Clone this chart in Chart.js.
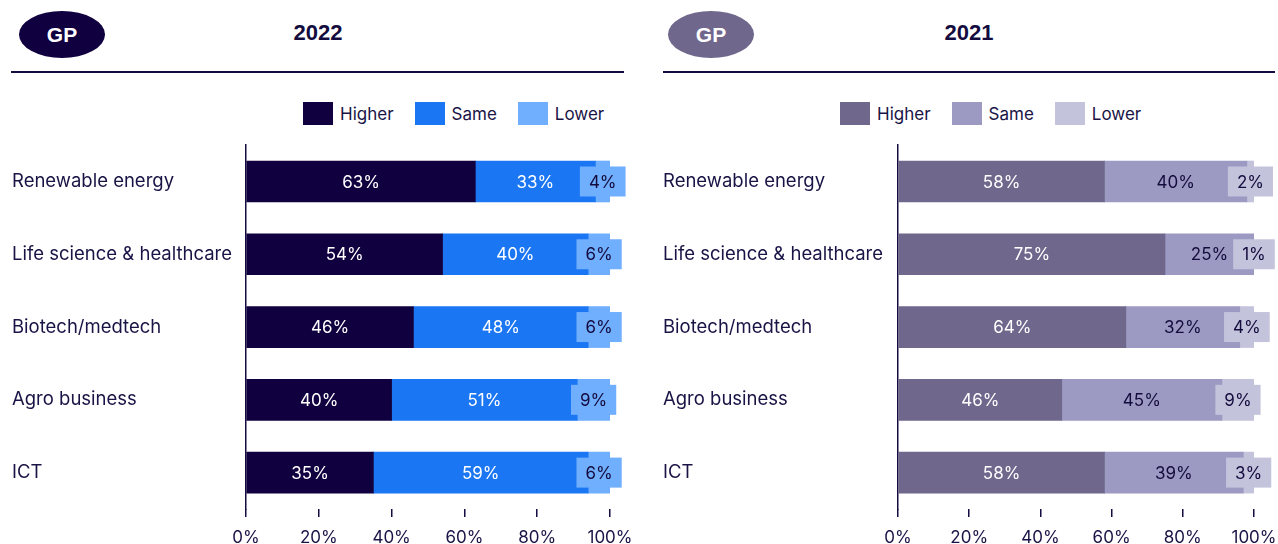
<!DOCTYPE html>
<html>
<head>
<meta charset="utf-8">
<script src="https://cdn.jsdelivr.net/npm/chart.js@4"></script>
<style>
  body { margin: 0; width: 1278px; height: 544px; background: #fff; position: relative; overflow: hidden; font-family: Inter, "Noto Sans", sans-serif; color: #1a1446; }
  .pill { position: absolute; top: 11px; width: 86px; height: 47px; border-radius: 50%; color: #fff; font: bold 21px "Liberation Sans", Arial, sans-serif; display: flex; align-items: center; justify-content: center; }
  .title { position: absolute; top: 20px; font: bold 22px "Liberation Sans", Arial, sans-serif; color: #140c3e; transform: translateX(-50%); }
  .rule { position: absolute; top: 71px; height: 1.5px; background: #140c3e; }
  .legend { position: absolute; top: 102px; display: flex; align-items: center; font-size: 17px; }
  .legend span.box { display: inline-block; width: 30px; height: 23px; margin-right: 7px; }
  .legend span.lbl { margin-right: 21px; }
  .wrap { position: absolute; top: 134px; height: 410px; }
</style>
</head>
<body>
<div class="pill" style="left:19px;background:#10003f;">GP</div>
<div class="title" style="left:318px;">2022</div>
<div class="rule" style="left:11px;width:613px;"></div>
<div class="legend" id="legend2022" style="left:303px;"></div>

<div class="pill" style="left:668px;background:#6f678c;">GP</div>
<div class="title" style="left:969px;">2021</div>
<div class="rule" style="left:663px;width:612px;"></div>
<div class="legend" id="legend2021" style="left:840px;"></div>

<div class="wrap" style="left:12px;width:622px;"><canvas id="chart2022"></canvas></div>
<div class="wrap" style="left:663px;width:615px;"><canvas id="chart2021"></canvas></div>

<script>
const categories = ['Renewable energy', 'Life science & healthcare', 'Biotech/medtech', 'Agro business', 'ICT'];
const seriesNames = ['Higher', 'Same', 'Lower'];

const higher2022 = [63, 54, 46, 40, 35];
const same2022 = [33, 40, 48, 51, 59];
const lower2022 = [4, 6, 6, 9, 6];

const higher2021 = [58, 75, 64, 46, 58];
const same2021 = [40, 25, 32, 45, 39];
const lower2021 = [2, 1, 4, 9, 3];

const xTickValues = [0, 20, 40, 60, 80, 100];

const colors2022 = ['#10003f', '#1a76f2', '#70aefe'];
const colors2021 = ['#6f678c', '#9c9ac2', '#c4c3dc'];
const labelColors2022 = ['#ffffff', '#ffffff', '#140c3e'];
const labelColors2021 = ['#ffffff', '#140c3e', '#140c3e'];

const navy = '#140c3e';
const textColor = '#1a1446';

function buildLegend(id, colors) {
    const el = document.getElementById(id);
    seriesNames.forEach((name, i) => {
        el.innerHTML += '<span class="box" style="background:' + colors[i] + '"></span><span class="lbl">' + name + '</span>';
    });
}

// draws the % labels on the segments, the "Lower" ones sit in a small box
const valueLabels = {
    id: 'valueLabels',
    afterDatasetsDraw(chart, args, opts) {
        const ctx = chart.ctx;
        ctx.save();
        ctx.font = '17px Inter, "Noto Sans", sans-serif';
        ctx.textAlign = 'center';
        ctx.textBaseline = 'middle';
        chart.data.datasets.forEach((ds, di) => {
            const meta = chart.getDatasetMeta(di);
            meta.data.forEach((bar, i) => {
                const p = bar.getProps(['x', 'y', 'base'], true);
                const cx = (Math.min(p.x, chart.chartArea.right) + p.base) / 2;
                const txt = ds.data[i] + '%';
                if (di === 2) {
                    const w = ctx.measureText(txt).width + 18;
                    ctx.fillStyle = ds.backgroundColor;
                    ctx.fillRect(cx - w / 2, p.y - 15, w, 30);
                }
                ctx.fillStyle = opts.colors[di];
                ctx.fillText(txt, cx, p.y + 1);
            });
        });
        ctx.restore();
    }
};

function makeChart(id, data, colors, labelColors, yWidth) {
    const ctx = document.getElementById(id).getContext('2d');
    return new Chart(ctx, {
        type: 'bar',
        data: {
            labels: categories,
            datasets: data.map((vals, i) => ({
                label: seriesNames[i],
                data: vals,
                backgroundColor: colors[i],
                borderWidth: 0,
                barThickness: 41
            }))
        },
        options: {
            indexAxis: 'y',
            responsive: true,
            maintainAspectRatio: false,
            animation: false,
            layout: { padding: { top: 0, right: 24, left: 0, bottom: 0 } },
            plugins: {
                legend: { display: false },
                tooltip: { enabled: false },
                valueLabels: { colors: labelColors }
            },
            scales: {
                x: {
                    stacked: true,
                    min: 0,
                    max: 100,
                    afterBuildTicks: (scale) => { scale.ticks = xTickValues.map(v => ({ value: v })); },
                    afterFit: (scale) => {
                        scale.height = 35;
                        scale.paddingLeft = 0;
                        scale.paddingRight = 0;
                    },
                    border: { display: false },
                    grid: { drawOnChartArea: false, drawTicks: true, tickLength: 8, color: navy, lineWidth: 1.5 },
                    ticks: { padding: 11, color: textColor, font: { family: 'Inter', size: 17 }, callback: (v) => v + '%' }
                },
                y: {
                    stacked: true,
                    afterFit: (scale) => { scale.width = yWidth; },
                    border: { display: true, color: navy, width: 1.5 },
                    grid: { display: false },
                    ticks: { crossAlign: 'far', padding: 0, color: textColor, font: { family: 'Inter', size: 18.5 } }
                }
            }
        },
        plugins: [valueLabels]
    });
}

document.addEventListener('DOMContentLoaded', () => {
    buildLegend('legend2022', colors2022);
    buildLegend('legend2021', colors2021);
    makeChart('chart2022', [higher2022, same2022, lower2022], colors2022, labelColors2022, 234);
    makeChart('chart2021', [higher2021, same2021, lower2021], colors2021, labelColors2021, 235);
});
</script>
</body>
</html>
